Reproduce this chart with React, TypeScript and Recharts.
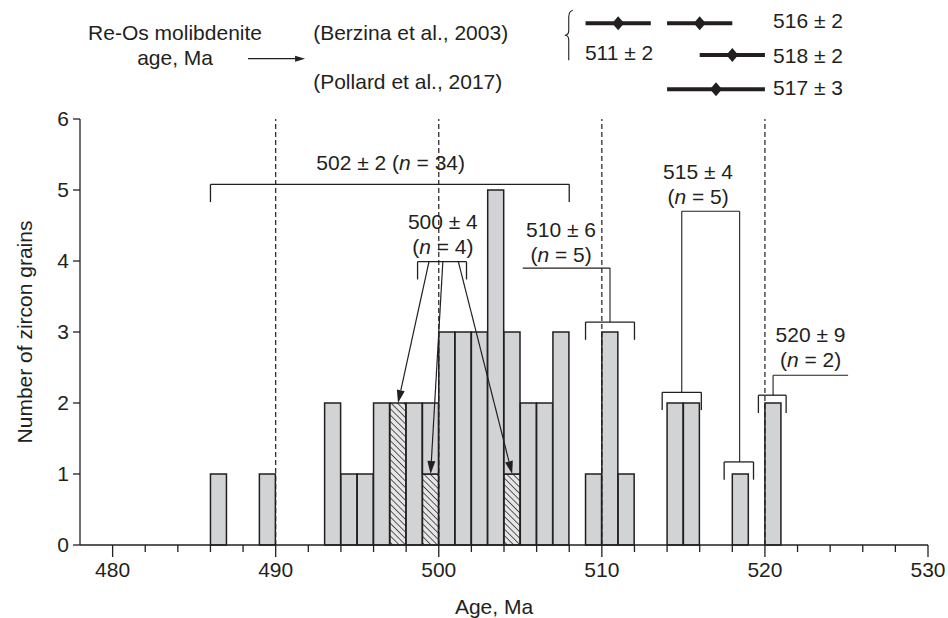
import React from "react";
import { Bar, ComposedChart, ReferenceDot, ReferenceLine, XAxis, YAxis } from "recharts";

// zircon age histogram, 1 Ma bins (bin start, plain grains, hatched grains)
const binStart = [486, 489, 493, 494, 495, 496, 497, 498, 499, 500, 501, 502, 503, 504, 505, 506, 507, 509, 510, 511, 514, 515, 518, 520];
const plainCount = [1, 1, 2, 1, 1, 2, 0, 2, 1, 3, 3, 3, 5, 2, 2, 2, 3, 1, 3, 1, 2, 2, 1, 2];
const hatchedCount = [0, 0, 0, 0, 0, 0, 2, 0, 1, 0, 0, 0, 0, 1, 0, 0, 0, 0, 0, 0, 0, 0, 0, 0];

const ageTicks = [480, 482, 484, 486, 488, 490, 492, 494, 496, 498, 500, 502, 504, 506, 508, 510, 512, 514, 516, 518, 520, 522, 524, 526, 528, 530];
const countTicks = [0, 1, 2, 3, 4, 5, 6];
const markerAges = [490, 500, 510, 520];

// weighted mean ages of grain groups
const groupAge = ["502 ± 2", "500 ± 4", "510 ± 6", "515 ± 4", "520 ± 9"];
const groupN = [34, 4, 5, 5, 2];

// Re-Os molybdenite ages
const molyAge = [511, 516, 518, 517];
const molyErr = [2, 2, 2, 3];
const molyText = ["511 ± 2", "516 ± 2", "518 ± 2", "517 ± 3"];

const INK = "#231f20";
const GRAY = "#d2d3d5";
const FONT = "'Liberation Sans', Arial, Helvetica, sans-serif";
const FS = 21;

// annotation anchors, in axis units (age, count)
const groupTextAt = [
  { x: 497.05, y: 5.38, split: false },
  { x: 500.25, y: 4.55, split: true },
  { x: 507.5, y: 4.44, split: true },
  { x: 515.9, y: 5.26, split: true },
  { x: 522.8, y: 2.96, split: true },
];
const LINE_GAP = 0.35;
const DROP = 0.25;
const brackets = [
  { from: 486, to: 508, y: 5.08 },
  { from: 498.7, to: 501.7, y: 3.99 },
  { from: 509, to: 512, y: 3.14 },
  { from: 513.7, to: 516.1, y: 2.15 },
  { from: 517.5, to: 519.3, y: 1.17 },
  { from: 519.6, to: 521.3, y: 2.11 },
];
const leaders: [number, number][][] = [
  [[505.15, 3.9], [510.5, 3.9], [510.5, 3.14]],
  [[514.9, 2.15], [514.9, 4.7], [518.45, 4.7], [518.45, 1.17]],
  [[525.1, 2.39], [520.5, 2.39], [520.5, 2.11]],
];
const arrows: [number, number][][] = [
  [[499.4, 3.99], [497.5, 2]],
  [[500.25, 3.99], [499.5, 1]],
  [[501.2, 3.99], [504.5, 1]],
];
const molyRowY = [7.35, 7.35, 6.9, 6.42];
const molyTextAt = [
  { x: 508.96, y: 6.94 },
  { x: 520.5, y: 7.38 },
  { x: 520.5, y: 6.89 },
  { x: 520.5, y: 6.44 },
];

const rows = binStart.map((b, i) => ({ age: b + 0.5, hatched: hatchedCount[i], plain: plainCount[i] }));

function AgeTick(props: any) {
  const { x, y, payload } = props;
  const major = payload.value % 10 === 0;
  return (
    <g>
      <line x1={x} y1={y} x2={x} y2={y + (major ? 12 : 7)} stroke={INK} strokeWidth={1.3} />
      {major && (
        <text x={x} y={y + 32} textAnchor="middle" fontSize={FS} fill={INK}>
          {payload.value}
        </text>
      )}
    </g>
  );
}

const textAt = (content: React.ReactNode, anchor: "start" | "middle" | "end" = "middle") => (p: any) => (
  <text x={p.cx} y={p.cy} dy="0.35em" textAnchor={anchor} fontSize={FS} fill={INK}>
    {content}
  </text>
);

const arrowShape = (head: number, half: number) => (p: any) => {
  const { x1, y1, x2, y2 } = p;
  const len = Math.hypot(x2 - x1, y2 - y1) || 1;
  const ux = (x2 - x1) / len;
  const uy = (y2 - y1) / len;
  const bx = x2 - ux * head;
  const by = y2 - uy * head;
  return (
    <g>
      <line x1={x1} y1={y1} x2={bx} y2={by} stroke={INK} strokeWidth={1.2} />
      <polygon points={`${x2},${y2} ${bx - uy * half},${by + ux * half} ${bx + uy * half},${by - ux * half}`} fill={INK} />
    </g>
  );
};

const diamond = (p: any) => (
  <polygon points={`${p.cx},${p.cy - 7} ${p.cx + 6},${p.cy} ${p.cx},${p.cy + 7} ${p.cx - 6},${p.cy}`} fill={INK} />
);

const brace = (p: any) => {
  const { cx, cy } = p;
  const d = `M${cx + 4},${cy - 25} Q${cx},${cy - 24} ${cx},${cy - 18} L${cx},${cy - 5} Q${cx},${cy} ${cx - 4},${cy} Q${cx},${cy} ${cx},${cy + 5} L${cx},${cy + 25}`;
  return <path d={d} fill="none" stroke={INK} strokeWidth={1.1} />;
};

const seg = (a: [number, number], b: [number, number], key: string, width = 1.3) => (
  <ReferenceLine
    key={key}
    segment={[{ x: a[0], y: a[1] }, { x: b[0], y: b[1] }]}
    stroke={INK}
    strokeWidth={width}
    ifOverflow="visible"
  />
);

export default function App() {
  return (
    <div style={{ position: "absolute", left: 0, top: 0, fontFamily: FONT }}>
      <ComposedChart width={948} height={618} data={rows} margin={{ top: 119, right: 20, bottom: 0, left: 20 }}>
        <defs>
          <pattern id="hatch" patternUnits="userSpaceOnUse" width="4.5" height="4.5" patternTransform="rotate(-45)">
            <rect width="4.5" height="4.5" fill="#e6e6e6" />
            <line x1="0" y1="0" x2="0" y2="4.5" stroke="#333" strokeWidth="1.6" />
          </pattern>
        </defs>
        <XAxis
          dataKey="age"
          type="number"
          domain={[478, 530]}
          ticks={ageTicks}
          interval={0}
          tick={<AgeTick />}
          tickLine={false}
          tickSize={0}
          tickMargin={0}
          height={73}
          axisLine={{ stroke: INK, strokeWidth: 1.3 }}
          label={{ value: "Age, Ma", position: "insideBottom", offset: 4, dx: -10, style: { fontSize: FS, fill: INK } }}
        />
        <YAxis
          type="number"
          domain={[0, 6]}
          ticks={countTicks}
          interval={0}
          width={60}
          tickSize={7}
          tickMargin={4}
          tick={{ fontSize: FS, fill: INK }}
          tickLine={{ stroke: INK, strokeWidth: 1.3 }}
          axisLine={{ stroke: INK, strokeWidth: 1.3 }}
          label={{
            value: "Number of zircon grains",
            angle: -90,
            position: "insideLeft",
            offset: 5,
            style: { textAnchor: "middle", fontSize: FS, fill: INK },
          }}
        />
        <Bar dataKey="hatched" stackId="g" fill="url(#hatch)" stroke={INK} strokeWidth={1.5} barSize={16} isAnimationActive={false} />
        <Bar dataKey="plain" stackId="g" fill={GRAY} stroke={INK} strokeWidth={1.5} barSize={16} isAnimationActive={false} />

        {markerAges.map((a) => (
          <ReferenceLine key={`m${a}`} x={a} stroke={INK} strokeWidth={1.2} strokeDasharray="5 3" />
        ))}

        {brackets.map((b, i) => [
          seg([b.from, b.y], [b.to, b.y], `bh${i}`),
          seg([b.from, b.y], [b.from, b.y - DROP], `bl${i}`),
          seg([b.to, b.y], [b.to, b.y - DROP], `br${i}`),
        ])}
        {leaders.map((pts, i) => pts.slice(1).map((p, j) => seg(pts[j], p, `l${i}-${j}`, 1.1)))}
        {arrows.map((a, i) => (
          <ReferenceLine
            key={`a${i}`}
            segment={[{ x: a[0][0], y: a[0][1] }, { x: a[1][0], y: a[1][1] }]}
            ifOverflow="visible"
            shape={arrowShape(13, 4)}
          />
        ))}

        {groupTextAt.map((t, i) => {
          const nPart = (
            <>
              (<tspan fontStyle="italic">n</tspan> = {groupN[i]})
            </>
          );
          if (!t.split) {
            return (
              <ReferenceDot key={`g${i}`} x={t.x} y={t.y} ifOverflow="visible" shape={textAt(<>{groupAge[i]} {nPart}</>)} />
            );
          }
          return [
            <ReferenceDot key={`g${i}a`} x={t.x} y={t.y} ifOverflow="visible" shape={textAt(groupAge[i])} />,
            <ReferenceDot key={`g${i}b`} x={t.x} y={t.y - LINE_GAP} ifOverflow="visible" shape={textAt(nPart)} />,
          ];
        })}

        {/* molybdenite ages above the plot */}
        <ReferenceDot x={483.83} y={7.21} ifOverflow="visible" shape={textAt("Re-Os molibdenite")} />
        <ReferenceDot x={483.83} y={6.86} ifOverflow="visible" shape={textAt("age, Ma")} />
        <ReferenceLine
          segment={[{ x: 488.3, y: 6.85 }, { x: 491.8, y: 6.85 }]}
          ifOverflow="visible"
          shape={arrowShape(10, 3)}
        />
        <ReferenceDot x={492.3} y={7.21} ifOverflow="visible" shape={textAt("(Berzina et al., 2003)", "start")} />
        <ReferenceDot x={492.3} y={6.52} ifOverflow="visible" shape={textAt("(Pollard et al., 2017)", "start")} />
        <ReferenceDot x={507.97} y={7.18} ifOverflow="visible" shape={brace} />
        {molyAge.map((a, i) => [
          seg([a - molyErr[i], molyRowY[i]], [a + molyErr[i], molyRowY[i]], `mo${i}`, 4),
          <ReferenceDot key={`md${i}`} x={a} y={molyRowY[i]} ifOverflow="visible" shape={diamond} />,
          <ReferenceDot key={`mt${i}`} x={molyTextAt[i].x} y={molyTextAt[i].y} ifOverflow="visible" shape={textAt(molyText[i], "start")} />,
        ])}
      </ComposedChart>
    </div>
  );
}
